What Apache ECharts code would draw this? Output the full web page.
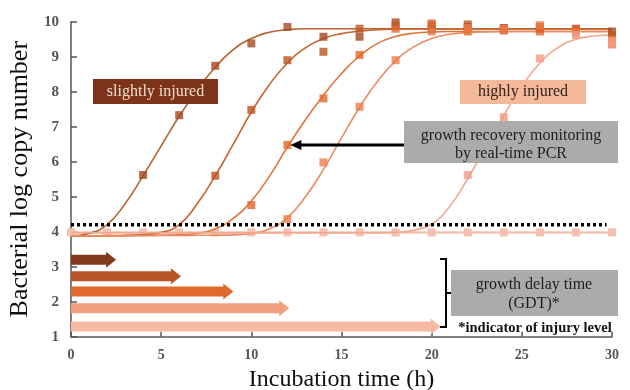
<!DOCTYPE html>
<html>
<head>
<meta charset="utf-8">
<script src="https://cdn.jsdelivr.net/npm/echarts@6/dist/echarts.min.js"></script>
<style>html,body{margin:0;padding:0;background:#fff;}#c{width:630px;height:390px;}</style>
</head>
<body>
<div id="c"></div>
<script>
// ---- data ----
const curveHours = [0,1,2,3,4,5,6,7,8,9,10,11,12,13,14,15,16,17,18,19,20,21,22,23,24,25,26,27,28,29,30];
const curve1 = [3.88,3.95,4.2,4.8,5.6,6.45,7.3,8.05,8.7,9.2,9.52,9.7,9.77,9.8,9.8,9.8,9.8,9.8,9.8,9.8,9.8,9.8,9.8,9.8,9.8,9.8,9.8,9.8,9.8,9.8,9.8];
const curve2 = [3.88,3.88,3.89,3.9,3.92,3.98,4.2,4.8,5.6,6.5,7.42,8.2,8.82,9.25,9.52,9.66,9.73,9.77,9.79,9.79,9.79,9.79,9.79,9.79,9.79,9.79,9.79,9.79,9.79,9.79,9.79];
const curve3 = [3.88,3.88,3.88,3.89,3.89,3.9,3.91,3.95,4.08,4.38,4.88,5.58,6.42,7.2,7.9,8.52,9.02,9.38,9.58,9.67,9.71,9.72,9.72,9.72,9.72,9.72,9.72,9.72,9.72,9.72,9.72];
const curve4 = [3.88,3.88,3.88,3.88,3.89,3.89,3.89,3.9,3.9,3.91,3.95,4.08,4.4,5.0,5.78,6.68,7.55,8.3,8.88,9.28,9.52,9.64,9.69,9.71,9.72,9.72,9.72,9.72,9.72,9.72,9.72];
const curve5 = [3.97,3.97,3.97,3.97,3.97,3.97,3.97,3.97,3.97,3.97,3.97,3.97,3.97,3.97,3.97,3.97,3.97,3.97,3.98,4.04,4.22,4.72,5.52,6.42,7.32,8.15,8.82,9.26,9.5,9.59,9.62];

const points1 = [[4,5.62],[6,7.33],[8,8.74],[10,9.38],[12,9.85],[14,9.57],[16,9.57],[18,9.98],[20,9.9],[22,9.85],[24,9.82],[26,9.85],[28,9.8],[30,9.72]];
const points2 = [[8,5.6],[10,7.48],[12,8.9],[14,9.14],[16,9.8],[18,9.88],[20,9.78],[22,9.92],[24,9.75],[26,9.8],[28,9.75],[30,9.6]];
const points3 = [[10,4.76],[12,6.48],[14,7.81],[16,9.05],[18,9.8],[20,9.95],[22,9.72],[24,9.8],[26,9.72],[28,9.78],[30,9.5]];
const points4 = [[12,4.36],[14,5.98],[16,7.57],[18,8.9],[20,9.72],[22,9.82],[24,9.78],[26,9.9],[28,9.68],[30,9.35]];
const points5 = [[22,5.62],[24,7.27],[26,8.95],[28,9.62],[30,9.45]];
const baselinePoints = [[0,3.98],[2,3.98],[4,3.98],[6,3.98],[8,3.98],[10,3.98],[12,3.98],[14,3.98],[16,3.98],[18,3.98],[20,3.98],[22,3.98],[24,3.98],[26,3.98],[28,3.98],[30,3.98]];

const threshold = 4.2;
const gdtValues = [2.5, 6.1, 9.0, 12.1, 20.5];
const gdtLevels = [3.2, 2.73, 2.29, 1.81, 1.29];

const xTicks = [0,5,10,15,20,25,30];
const yTicks = [1,2,3,4,5,6,7,8,9,10];

// ---- styles ----
const lineColors = ['#b8622f','#c8642e','#e0743a','#ec8b62','#f3a78d'];
const markerColors = ['#a4481f','#bb5423','#e0662b','#ec7c4c','#f29c82'];
const arrowColors = ['#823a1c','#b8562a','#e0692f','#f0a080','#f6b9a1'];
const SERIF = '"Liberation Serif","DejaVu Serif",serif';

const chart = echarts.init(document.getElementById('c'), null, {renderer:'canvas'});

function zip(xs, ys){ return xs.map((x,i)=>[x, ys[i]]); }

const curves = [curve1, curve2, curve3, curve4, curve5];
const pointSets = [points1, points2, points3, points4, points5];

const series = [];

series.push({
  type:'line', data: baselinePoints, smooth:false, symbol:'rect', symbolSize:8, showSymbol:true,
  lineStyle:{color:'#f6c3b5', width:2.5}, itemStyle:{color:'#f6bfb0'}, z:2, silent:true
});

curves.forEach((c,i)=>{
  series.push({
    type:'line', data: zip(curveHours, c), smooth:0.5, showSymbol:false,
    lineStyle:{color: lineColors[i], width:1.6}, z:3+i, silent:true
  });
});

pointSets.forEach((p,i)=>{
  series.push({
    type:'scatter', data: p, symbol:'rect', symbolSize:8,
    itemStyle:{color: markerColors[i]}, z:10+i, silent:true
  });
});

series.push({
  type:'line', data:[[0,threshold],[29.7,threshold]], showSymbol:false,
  lineStyle:{color:'#000', width:3.5, type:[3,3]}, z:20, silent:true
});

series.push({
  type:'custom', z:15, silent:true,
  data: gdtValues.map((g,i)=>[g, gdtLevels[i]]),
  renderItem: function(params, api){
    const i = params.dataIndex;
    const s = api.coord([0, api.value(1)]);
    const e = api.coord([api.value(0), api.value(1)]);
    const h = 10, hh = 8, hl = 10;
    return {
      type:'group',
      children:[
        {type:'rect', shape:{x:s[0], y:s[1]-h/2, width:e[0]-s[0]-hl+1, height:h}, style:{fill:arrowColors[i]}},
        {type:'polygon', shape:{points:[[e[0]-hl, e[1]-hh],[e[0], e[1]],[e[0]-hl, e[1]+hh]]}, style:{fill:arrowColors[i]}}
      ]
    };
  }
});

const option = {
  animation:false,
  backgroundColor:'#fff',
  grid:{left:71, right:18, top:21.7, bottom:53.3, containLabel:false, outerBoundsMode:'none'},
  xAxis:{
    type:'value', min:0, max:30, interval:5,
    name:'Incubation time (h)', nameLocation:'middle', nameGap:28,
    nameTextStyle:{fontFamily:SERIF, fontSize:24, color:'#111'},
    axisLine:{show:true, lineStyle:{color:'#555', width:1.5}},
    axisTick:{show:true, inside:true, length:5, lineStyle:{color:'#555', width:1.5}},
    axisLabel:{fontFamily:SERIF, fontSize:14, fontWeight:'bold', color:'#555', margin:12,
      formatter:v=> xTicks.indexOf(v)>=0 ? String(v) : ''},
    splitLine:{show:false}
  },
  yAxis:{
    type:'value', min:1, max:10, interval:1,
    name:'Bacterial log copy number', nameLocation:'middle', nameGap:38,
    nameTextStyle:{fontFamily:SERIF, fontSize:26, color:'#111'},
    axisLine:{show:true, lineStyle:{color:'#555', width:1.5}},
    axisTick:{show:true, inside:true, length:6, lineStyle:{color:'#555', width:1.5}},
    axisLabel:{fontFamily:SERIF, fontSize:15, fontWeight:'bold', color:'#555', margin:12,
      formatter:v=> yTicks.indexOf(v)>=0 ? String(v) : ''},
    splitLine:{show:false}
  },
  series: series
};
chart.setOption(option);

const target = chart.convertToPixel({gridIndex:0}, [12, 6.48]);
const boxFont = '16px ' + SERIF;
chart.setOption({
  graphic:[
    {type:'rect', shape:{x:93, y:79, width:125, height:25}, style:{fill:'#7b3419'}, z:50},
    {type:'text', x:155.5, y:92, style:{text:'slightly injured', fill:'#f3dccb', font:boxFont, align:'center', verticalAlign:'middle'}, z:51},
    {type:'rect', shape:{x:460, y:80, width:126, height:24}, style:{fill:'#f4b89a'}, z:50},
    {type:'text', x:523, y:92, style:{text:'highly injured', fill:'#33241c', font:boxFont, align:'center', verticalAlign:'middle'}, z:51},
    {type:'rect', shape:{x:404, y:121, width:214, height:42}, style:{fill:'#ababab'}, z:50},
    {type:'text', x:511, y:136, style:{text:'growth recovery monitoring', fill:'#1e1e1e', font:boxFont, align:'center', verticalAlign:'middle'}, z:51},
    {type:'text', x:511, y:154, style:{text:'by real-time PCR', fill:'#1e1e1e', font:boxFont, align:'center', verticalAlign:'middle'}, z:51},
    {type:'line', shape:{x1:404, y1:target[1], x2:target[0]+12, y2:target[1]}, style:{stroke:'#000', lineWidth:3}, z:50},
    {type:'polygon', shape:{points:[[target[0]+3, target[1]],[target[0]+14, target[1]-5],[target[0]+14, target[1]+5]]}, style:{fill:'#000'}, z:50},
    {type:'rect', shape:{x:451, y:270, width:167, height:46}, style:{fill:'#ababab'}, z:50},
    {type:'text', x:534, y:285, style:{text:'growth delay time', fill:'#1e1e1e', font:boxFont, align:'center', verticalAlign:'middle'}, z:51},
    {type:'text', x:534, y:304, style:{text:'(GDT)*', fill:'#1e1e1e', font:boxFont, align:'center', verticalAlign:'middle'}, z:51},
    {type:'text', x:535, y:328, style:{text:'*indicator of injury level', fill:'#111', font:'bold 14.5px '+SERIF, align:'center', verticalAlign:'middle'}, z:51},
    {type:'polyline', shape:{points:[[440,259],[446,259],[446,327],[440,327]]}, style:{stroke:'#000', lineWidth:2, fill:null}, z:50},
    {type:'line', shape:{x1:446, y1:293, x2:451, y2:293}, style:{stroke:'#000', lineWidth:2}, z:50}
  ]
});
</script>
</body>
</html>
